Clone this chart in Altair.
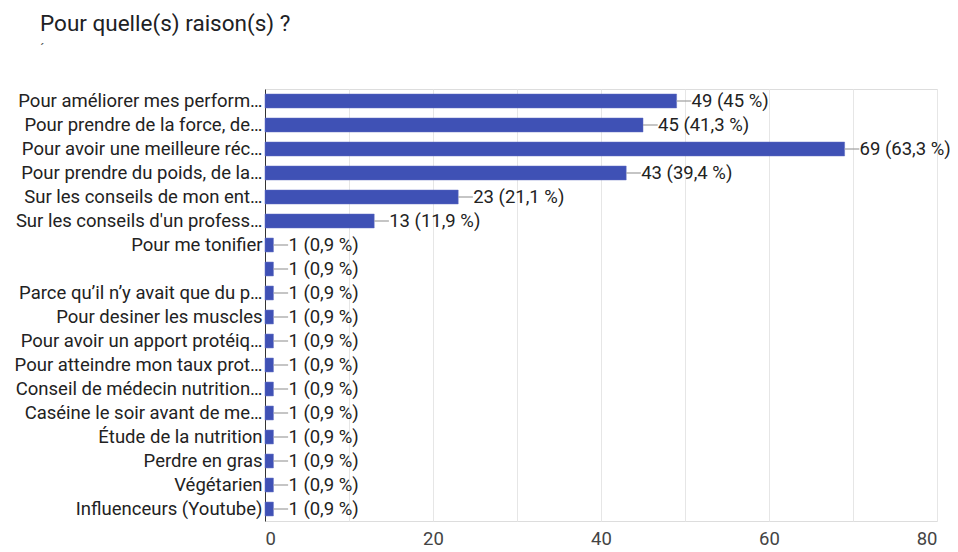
import altair as alt
import pandas as pd

categories = [
    "Pour améliorer mes perform…",
    "Pour prendre de la force, de…",
    "Pour avoir une meilleure réc…",
    "Pour prendre du poids, de la…",
    "Sur les conseils de mon ent…",
    "Sur les conseils d'un profess…",
    "Pour me tonifier",
    " ",
    "Parce qu’il n’y avait que du p…",
    "Pour desiner les muscles",
    "Pour avoir un apport protéiq…",
    "Pour atteindre mon taux prot…",
    "Conseil de médecin nutrition…",
    "Caséine le soir avant de me…",
    "Étude de la nutrition",
    "Perdre en gras",
    "Végétarien",
    "Influenceurs (Youtube)",
]
counts = [49, 45, 69, 43, 23, 13, 1, 1, 1, 1, 1, 1, 1, 1, 1, 1, 1, 1]
percents = ["45", "41,3", "63,3", "39,4", "21,1", "11,9"] + ["0,9"] * 12

df = pd.DataFrame({"cat": categories, "count": counts, "pct": percents})
df["label"] = df["count"].astype(str) + " (" + df["pct"] + " %)"

FONT = "Roboto"
FS = 18.5
y_enc = alt.Y("cat:N", sort=categories, title=None,
              scale=alt.Scale(paddingInner=0.42, paddingOuter=0.21),
              axis=alt.Axis(domainColor="#333333", domainWidth=1, ticks=False,
                            labelFont=FONT, labelFontSize=FS, labelColor="#222222",
                            labelPadding=3, labelLimit=400))
x_scale = alt.Scale(domain=[0, 80], nice=False)

base = alt.Chart(df)

bars = base.mark_bar(color="#3f51b5", stroke="#5c6bc0", strokeWidth=0.5).encode(
    x=alt.X("count:Q", scale=x_scale, title=None,
            axis=alt.Axis(values=list(range(0, 81, 10)), domain=False, ticks=False,
                          gridColor="#e6e6e6", labelFont=FONT, labelFontSize=FS,
                          labelColor="#444444", labelPadding=8,
                          labelExpr="datum.value % 20 == 0 ? datum.label : ''")),
    y=y_enc,
)

conn = base.transform_calculate(end="datum.count + 1.75").mark_rule(
    color="#9e9e9e", strokeWidth=1.2).encode(
    x=alt.X("count:Q", scale=x_scale), x2="end:Q", y=alt.Y("cat:N", sort=categories, bandPosition=0.5))

texts = base.mark_text(align="left", baseline="middle", dx=15, font=FONT,
                       fontSize=FS, color="#222222").encode(
    x=alt.X("count:Q", scale=x_scale),
    y=alt.Y("cat:N", sort=categories),
    text="label:N",
)

chart = alt.layer(bars, conn, texts).properties(
    width=672, height=432,
    autosize=alt.AutoSizeParams(type="none"),
    padding={"left": 265, "top": 89, "right": 21, "bottom": 31},
    title=alt.TitleParams("Pour quelle(s) raison(s) ?", subtitle="´", anchor="start",
                          frame="group", dx=-225, offset=32, font="Roboto", fontSize=22.5,
                          fontWeight="normal", color="#202124",
                          subtitleFont="Roboto", subtitleFontSize=14,
                          subtitleColor="#555555", subtitlePadding=8),
).configure_view(stroke="#e6e6e6").configure(background="white")

chart.save("out.html", embed_options={"renderer": "svg", "actions": False})
